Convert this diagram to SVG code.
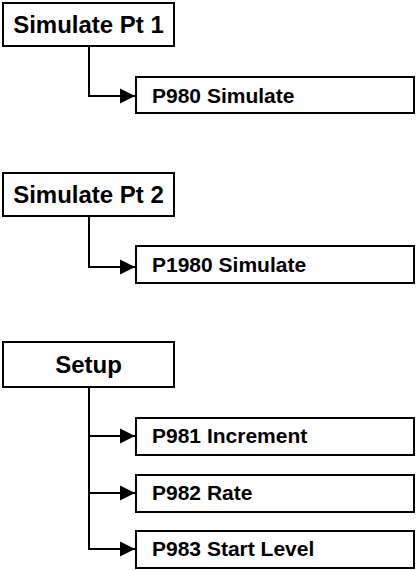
<svg xmlns="http://www.w3.org/2000/svg" width="416" height="570" viewBox="0 0 416 570">
<style>
.box{fill:#fff;stroke:#000;stroke-width:2}
.pt{font-family:"Liberation Sans",Arial,sans-serif;font-weight:bold;font-size:24px;text-anchor:middle;fill:#000}
.ct{font-family:"Liberation Sans",Arial,sans-serif;font-weight:bold;font-size:21px;fill:#000}
.conn{fill:none;stroke:#000;stroke-width:2}
</style>
<defs>
<marker id="arr" markerUnits="userSpaceOnUse" markerWidth="16" markerHeight="16" refX="15" refY="8" orient="auto">
<path d="M0,0.5 L15,8 L0,15.5 Z" fill="#000"/>
</marker>
</defs>
<rect width="416" height="570" fill="#fff"/>
<g id="connectors">
<path class="conn" d="M89,46 V96 H135" marker-end="url(#arr)"/>
<path class="conn" d="M89,216 V267 H135" marker-end="url(#arr)"/>
<path class="conn" d="M89,387 V549 H135" marker-end="url(#arr)"/>
<path class="conn" d="M89,436 H135" marker-end="url(#arr)"/>
<path class="conn" d="M89,493 H135" marker-end="url(#arr)"/>
</g>
<g id="sim1">
<rect class="box" x="3" y="3" width="171" height="43"/>
<text class="pt" x="88.5" y="33">Simulate Pt 1</text>
</g>
<g id="p980">
<rect class="box" x="136" y="77" width="278" height="36"/>
<text class="ct" x="152" y="103">P980 Simulate</text>
</g>
<g id="sim2">
<rect class="box" x="3" y="173" width="171" height="43"/>
<text class="pt" x="88.5" y="203">Simulate Pt 2</text>
</g>
<g id="p1980">
<rect class="box" x="136" y="246" width="278" height="37"/>
<text class="ct" x="152" y="272">P1980 Simulate</text>
</g>
<g id="setup">
<rect class="box" x="3" y="342" width="171" height="45"/>
<text class="pt" x="88.5" y="373">Setup</text>
</g>
<g id="p981">
<rect class="box" x="136" y="418" width="278" height="37"/>
<text class="ct" x="152" y="443">P981 Increment</text>
</g>
<g id="p982">
<rect class="box" x="136" y="475" width="278" height="37"/>
<text class="ct" x="152" y="500">P982 Rate</text>
</g>
<g id="p983">
<rect class="box" x="136" y="531" width="278" height="37"/>
<text class="ct" x="152" y="556">P983 Start Level</text>
</g>
</svg>
